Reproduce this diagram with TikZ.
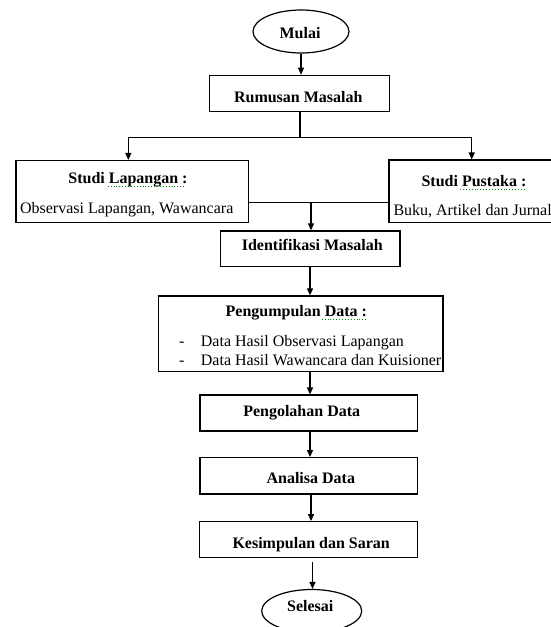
\documentclass[tikz,border=0pt]{standalone}
\usepackage{fontspec}
\setmainfont{Liberation Serif}
\usetikzlibrary{arrows.meta,shapes.geometric}
\begin{document}
\begin{tikzpicture}[x=1pt,y=-1pt,
 box/.style={draw,line width=1.2pt,rectangle,inner sep=0pt},
 term/.style={draw,line width=1.2pt,ellipse,inner sep=0pt},
 conn/.style={line width=1.2pt},
 arr/.style={conn,-{Triangle[length=7pt,width=6pt]}},
 ttl/.style={font=\fontsize{16}{19}\selectfont\bfseries,inner sep=0pt,anchor=base},
 txt/.style={font=\fontsize{16}{19}\selectfont,inner sep=0pt,anchor=base},
 squig/.style={green!55!black,line width=0.9pt,dotted}]
\useasboundingbox (0,0) rectangle (551,627);
\begin{scope}
\clip (0,0) rectangle (551,627);
% shapes
\node[term,minimum width=96pt,minimum height=43pt] (mulai) at (301,31.5) {};
\node[box,minimum width=180pt,minimum height=36.4pt] (rum) at (299.3,93.5) {};
\node[box,minimum width=232.7pt,minimum height=62pt] (lap) at (132.3,191.5) {};
\node[box,minimum width=181pt,minimum height=62.5pt] (pus) at (479.5,191.3) {};
\node[box,minimum width=179.7pt,minimum height=35.7pt] (iden) at (310.2,248.8) {};
\node[box,minimum width=284.7pt,minimum height=75.7pt] (kumpul) at (300.7,333.8) {};
\node[box,minimum width=217.3pt,minimum height=36pt] (olah) at (308.7,413) {};
\node[box,minimum width=217.3pt,minimum height=36.3pt] (anal) at (308.7,475.8) {};
\node[box,minimum width=218pt,minimum height=36pt] (simpul) at (308.3,539.7) {};
\node[term,minimum width=100pt,minimum height=43pt] (selesai) at (311.7,611) {};
% texts
\node[ttl] (mulaiT) at (300,38.5) {Mulai};
\node[ttl] (rumT) at (298.3,102) {Rumusan Masalah};
\node[ttl] (lapT) at (128,183.5) {Studi Lapangan :};
\node[txt] (lapI) at (126.7,213.5) {Observasi Lapangan, Wawancara};
\node[ttl] (pusT) at (474,186.5) {Studi Pustaka :};
\node[txt,anchor=base west] (pusI) at (393.3,215.5) {Buku, Artikel dan Jurnal};
\node[ttl] (idenT) at (312.3,250) {Identifikasi Masalah};
\node[ttl] (kumpulT) at (296.3,316.7) {Pengumpulan Data :};
\node[txt] (d1) at (181.7,346) {-};
\node[txt,anchor=base west] (b1) at (200.7,346) {Data Hasil Observasi Lapangan};
\node[txt] (d2) at (181.7,365.7) {-};
\node[txt,anchor=base west] (b2) at (200.7,365.7) {Data Hasil Wawancara dan Kuisioner};
\node[ttl] (olahT) at (301.7,416.7) {Pengolahan Data};
\node[ttl] (analT) at (310.8,483.3) {Analisa Data};
\node[ttl] (simpulT) at (311.2,548.3) {Kesimpulan dan Saran};
\node[ttl] (selesaiT) at (310.3,611.7) {Selesai};
% spell-check squiggles
\draw[squig] (107.7,186) -- (185,186);
\draw[squig] (460,189) -- (525,189);
\draw[squig] (321.7,319.5) -- (366.7,319.5);
% connectors
\coordinate (split) at (300,137.3);
\coordinate (cl) at (128.3,0);
\coordinate (cr) at (471.7,0);
\coordinate (merge) at (311,202.5);
\coordinate (c310) at (310,0);
\coordinate (c311) at (311,0);
\coordinate (c312) at (312.5,0);
\draw[arr] (mulai.south) -- (mulai.south |- rum.north);
\draw[conn] (rum.south -| split) -- (split);
\draw[arr] (split) -| (cl |- lap.north);
\draw[arr] (split) -| (cr |- pus.north);
\draw[conn] (lap.east |- merge) -- (pus.west |- merge);
\draw[arr] (merge) -- (merge |- iden.north);
\draw[arr] (iden.south -| c310) -- (kumpul.north -| c310);
\draw[arr] (kumpul.south -| c310) -- (olah.north -| c310);
\draw[arr] (olah.south -| c310) -- (anal.north -| c310);
\draw[arr] (anal.south -| c311) -- (simpul.north -| c311);
\draw[arr] ([yshift=-4pt]simpul.south -| c312) -- (selesai.north -| c312);
\end{scope}
\end{tikzpicture}
\end{document}
